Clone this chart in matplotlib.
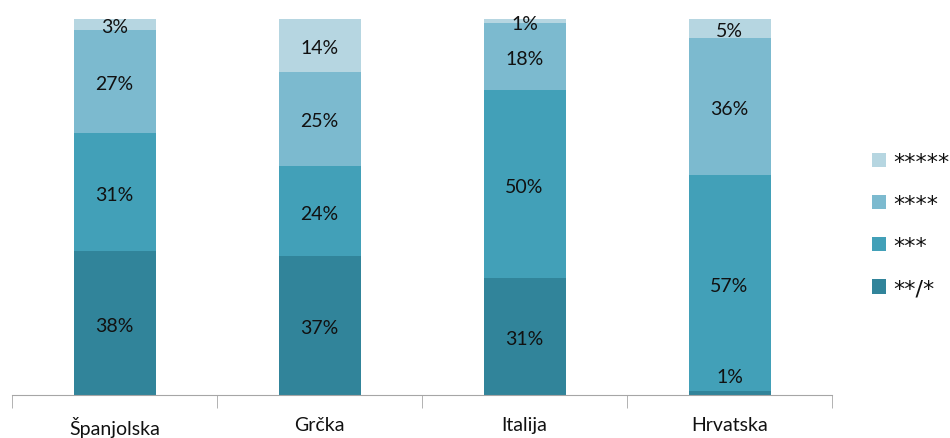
import matplotlib
matplotlib.use("Agg")
import matplotlib.pyplot as plt
import numpy as np

plt.rcParams['font.family'] = ['Lato', 'DejaVu Sans']

categories = ["Španjolska", "Grčka", "Italija", "Hrvatska"]
series_names = ["**/*", "***", "****", "*****"]
v_2star = [38, 37, 31, 1]
v_3star = [31, 24, 50, 57]
v_4star = [27, 25, 18, 36]
v_5star = [3, 14, 1, 5]

colors = ["#31849A", "#42A0B8", "#7CBACF", "#B6D6E1"]

data = np.array([v_2star, v_3star, v_4star, v_5star], dtype=float)
shares = data / data.sum(axis=0) * 100

fig = plt.figure(figsize=(9.5, 4.39), dpi=100)
ax = fig.add_axes([12/950, 1 - 396/439, (832-12)/950, (396-20)/439])

x = np.arange(len(categories))
bottom = np.zeros(len(categories))
handles = []
for i, name in enumerate(series_names):
    b = ax.bar(x, shares[i], 0.4, bottom=bottom, color=colors[i], label=name,
               edgecolor='none')
    handles.append(b)
    for j in range(len(categories)):
        cy = bottom[j] + shares[i][j] / 2 - 0.6
        cy = max(cy, 5.0)
        ax.text(x[j], cy, f"{int(data[i][j])}%", ha='center', va='center',
                fontsize=14, color='#111111')
    bottom += shares[i]

ax.set_xlim(-0.5, len(categories) - 0.5)
ax.set_ylim(0, 100)
for s in ['left', 'right', 'top']:
    ax.spines[s].set_visible(False)
ax.spines['bottom'].set_color('#A6A6A6')
ax.set_yticks([])
ax.set_xticks(x)
ax.set_xticklabels(categories, fontsize=14, color='#111111')
ax.tick_params(axis='x', which='major', length=0, pad=15)
ax.set_xticks(np.arange(-0.5, len(categories)), minor=True)
ax.tick_params(axis='x', which='minor', length=9, color='#A6A6A6')

leg = fig.legend(handles[::-1], series_names[::-1], loc='center left',
                 bbox_to_anchor=(863/950, 1 - 226/439), frameon=False,
                 prop={'family': 'DejaVu Sans', 'size': 16},
                 handlelength=0.62, handleheight=0.62,
                 handletextpad=0.35, labelspacing=1.0, borderaxespad=0)
for t in leg.get_texts():
    t.set_color('#111111')

fig.savefig("out.png", dpi=100)
